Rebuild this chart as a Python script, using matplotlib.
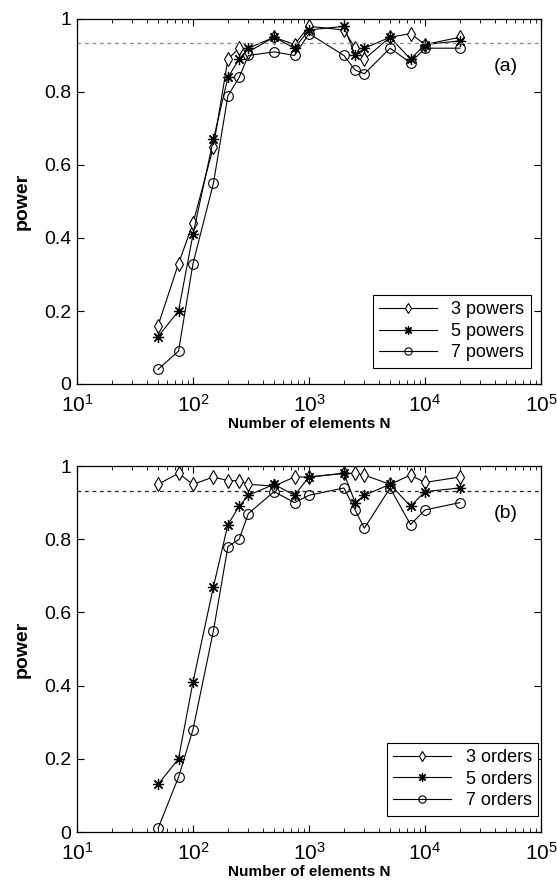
import matplotlib
matplotlib.use("Agg")
import matplotlib.pyplot as plt
from matplotlib.ticker import LogLocator, NullFormatter, FixedLocator

plt.rcParams['font.family'] = ['Liberation Sans', 'DejaVu Sans']
plt.rcParams['mathtext.default'] = 'regular'
plt.rcParams['mathtext.fontset'] = 'custom'
plt.rcParams['mathtext.rm'] = 'Liberation Sans'

N = [50, 75, 100, 150, 200, 250, 300, 500, 750, 1000, 2000, 2500, 3000, 5000, 7500, 10000, 20000]

powers3 = [0.16, 0.33, 0.44, 0.65, 0.89, 0.92, 0.91, 0.95, 0.93, 0.98, 0.97, 0.92, 0.89, 0.95, 0.96, 0.93, 0.95]
powers5 = [0.13, 0.20, 0.41, 0.67, 0.84, 0.89, 0.92, 0.95, 0.92, 0.97, 0.98, 0.90, 0.92, 0.95, 0.89, 0.93, 0.94]
powers7 = [0.04, 0.09, 0.33, 0.55, 0.79, 0.84, 0.90, 0.91, 0.90, 0.96, 0.90, 0.86, 0.85, 0.92, 0.88, 0.92, 0.92]

orders3 = [0.95, 0.98, 0.95, 0.97, 0.96, 0.96, 0.95, 0.945, 0.97, 0.97, 0.98, 0.98, 0.975, 0.95, 0.975, 0.955, 0.97]
orders5 = [0.13, 0.20, 0.41, 0.67, 0.84, 0.89, 0.92, 0.95, 0.92, 0.97, 0.98, 0.90, 0.92, 0.95, 0.89, 0.93, 0.94]
orders7 = [0.01, 0.15, 0.28, 0.55, 0.78, 0.80, 0.87, 0.93, 0.90, 0.92, 0.94, 0.88, 0.83, 0.94, 0.84, 0.88, 0.90]

threshold = 0.933
labels_a = ['3 powers', '5 powers', '7 powers']
labels_b = ['3 orders', '5 orders', '7 orders']
panel_tags = ['(a)', '(b)']

W, H = 557, 880
fig = plt.figure(figsize=(W / 100, H / 100), dpi=100)

def make_ax(top_px, bottom_px):
    left, right = 77, 541
    return fig.add_axes([left / W, 1 - bottom_px / H, (right - left) / W, (bottom_px - top_px) / H])

axes = [make_ax(19, 384), make_ax(466, 832)]
series = [(powers3, powers5, powers7), (orders3, orders5, orders7)]
labels = [labels_a, labels_b]
dash_colors = ['#888888', '#222222']
leg_anchor = [(0.997, 0.02), (1.013, 0.02)]

for ax, (s3, s5, s7), labs, tag, dc, la in zip(axes, series, labels, panel_tags, dash_colors, leg_anchor):
    ax.plot(N, s3, color='black', lw=0.8, marker='d', ms=7, mfc='white', mec='black', mew=0.8, label=labs[0])
    ax.plot(N, s5, color='black', lw=0.8, marker=(8, 2, 0), ms=8, mfc='black', mec='black', mew=0.9, label=labs[1])
    ax.plot(N, s7, color='black', lw=0.8, marker='o', ms=7, mfc='none', mec='black', mew=0.8, label=labs[2])
    ax.axhline(threshold, color=dc, lw=0.9, ls=(0, (3, 3)))
    ax.set_xscale('log')
    ax.set_xlim(10, 1e5)
    ax.set_ylim(0, 1)
    ax.set_yticks([0, 0.2, 0.4, 0.6, 0.8, 1])
    ax.set_yticklabels(['0', '0.2', '0.4', '0.6', '0.8', '1'])
    ax.xaxis.set_major_locator(FixedLocator([10, 100, 1000, 1e4, 1e5]))
    ax.xaxis.set_minor_locator(LogLocator(base=10, subs=range(2, 10)))
    ax.xaxis.set_minor_formatter(NullFormatter())
    ax.tick_params(which='both', direction='in', top=True, right=True)
    ax.tick_params(axis='y', labelsize=14, pad=4)
    ax.tick_params(axis='x', labelsize=15, pad=7)
    ax.tick_params(which='major', length=5, width=0.8)
    ax.tick_params(which='minor', length=3, width=0.6)
    for sp in ax.spines.values():
        sp.set_linewidth(0.9)
    ax.set_xlabel('Number of elements N', fontsize=11, fontweight='bold', labelpad=1)
    ax.set_ylabel('power', fontsize=14, fontweight='bold', labelpad=10)
    ax.text(0.95, 0.87, tag, transform=ax.transAxes, fontsize=14, ha='right', va='center')
    leg = ax.legend(loc='lower right', bbox_to_anchor=la, fontsize=13, frameon=True,
                    fancybox=False, edgecolor='black', framealpha=1, handlelength=3.2,
                    borderpad=0.35, labelspacing=0.25, handletextpad=0.8, markerscale=0.75)
    leg.get_frame().set_linewidth(0.8)

fig.savefig('out.png', dpi=100)
